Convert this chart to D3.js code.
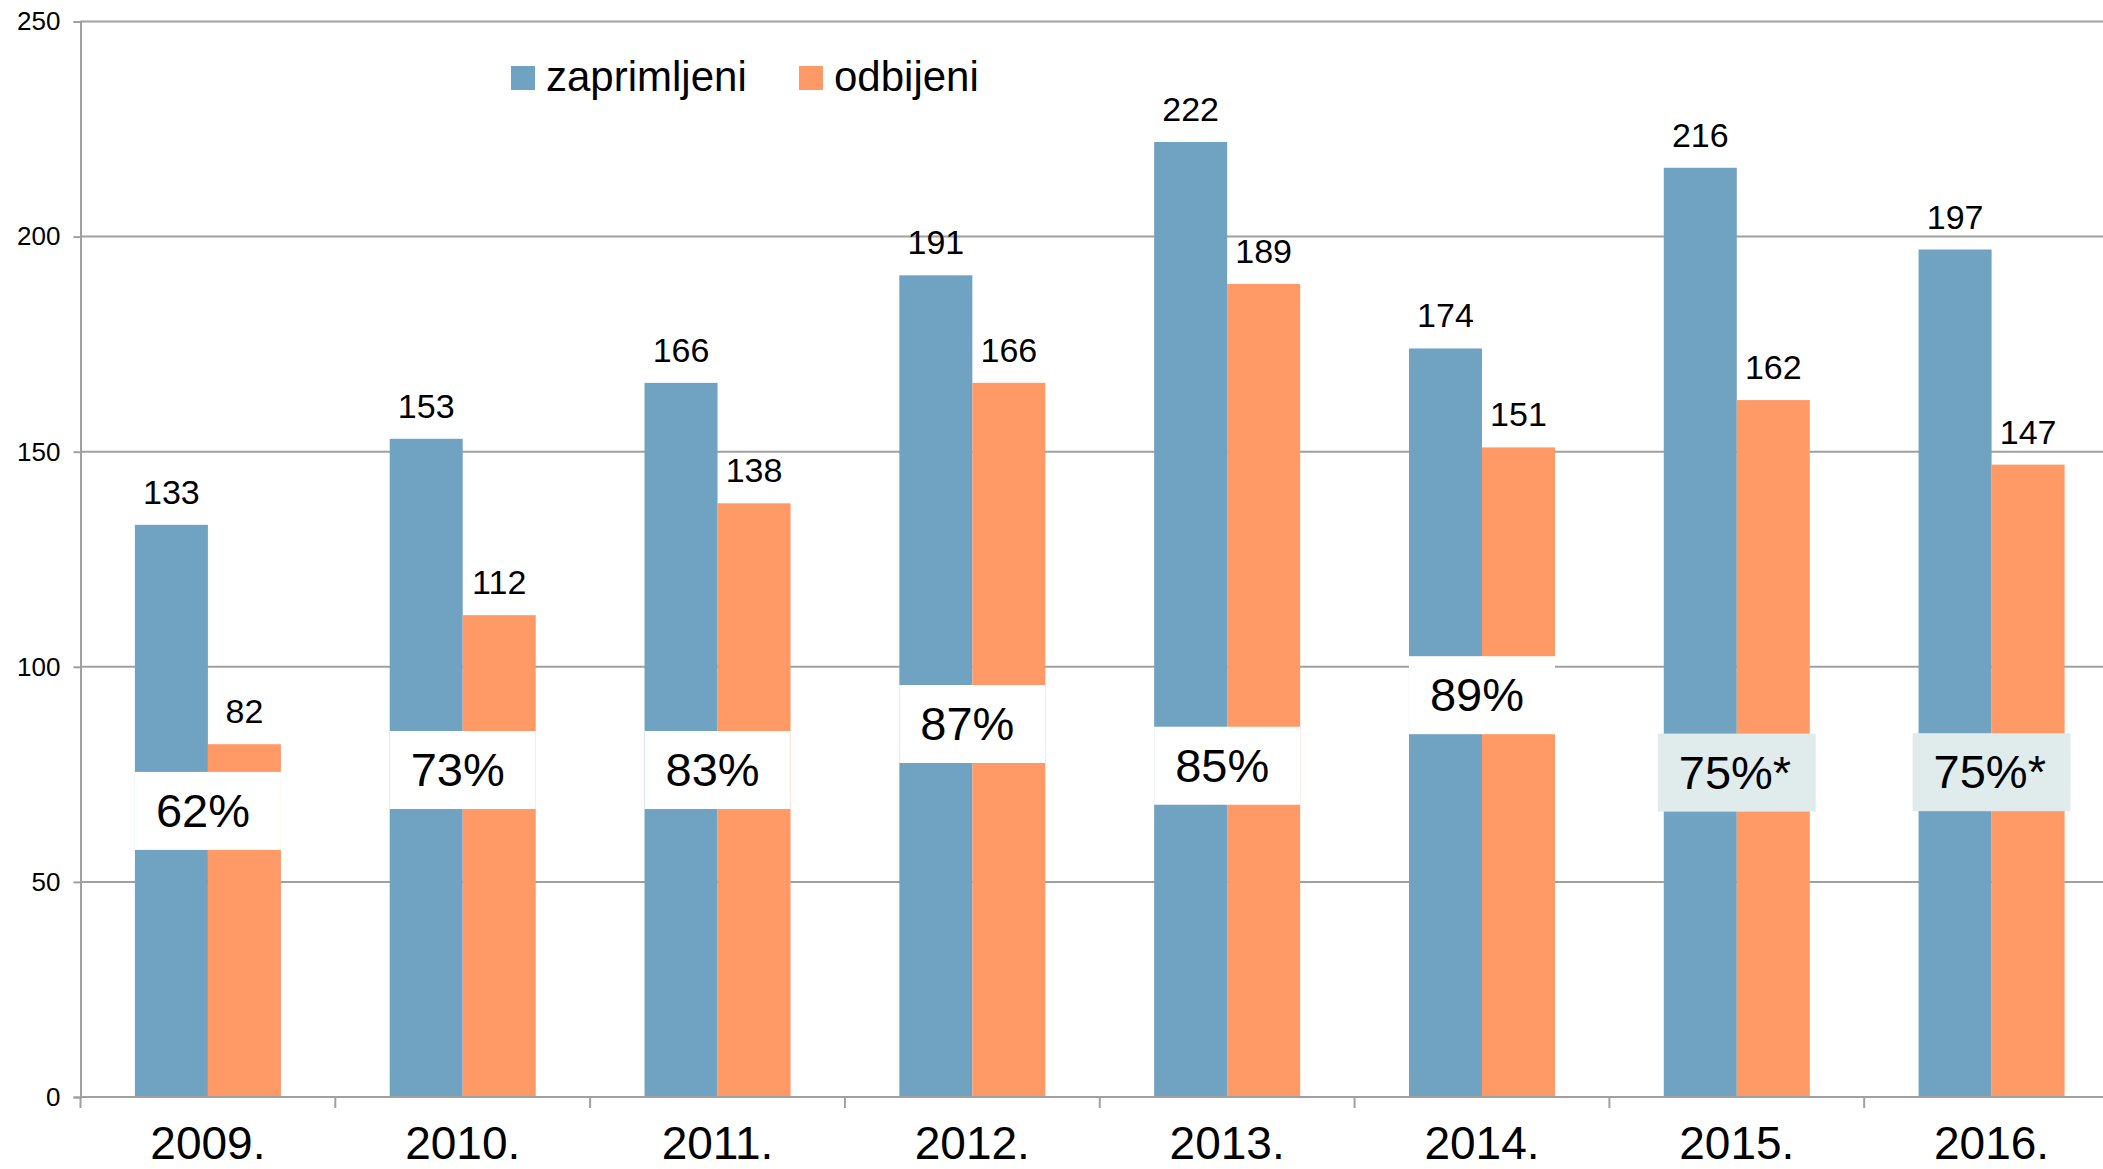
<!DOCTYPE html>
<html>
<head>
<meta charset="utf-8">
<script src="https://cdn.jsdelivr.net/npm/d3@7"></script>
<style>
    body { margin: 0; background: #fff; }
    svg { display: block; font-family: "Liberation Sans Narrow", "Liberation Sans", sans-serif; }
</style>
</head>
<body>
<div id="chart"></div>
<script>

// Data
let years = ["2009.", "2010.", "2011.", "2012.", "2013.", "2014.", "2015.", "2016."];
let zaprimljeni = [133, 153, 166, 191, 222, 174, 216, 197];
let odbijeni = [82, 112, 138, 166, 189, 151, 162, 147];
let pctLabels = ["62%", "73%", "83%", "87%", "85%", "89%", "75%*", "75%*"];
// level (in axis units) where each percentage note sits
let pctAt = [66.5, 76, 76, 86.7, 77, 93.4, 75.4, 75.5];
let yTicks = [0, 50, 100, 150, 200, 250];
let seriesNames = ["zaprimljeni", "odbijeni"];
let seriesColors = ["#70a2c2", "#ff9966"];

let W = 2103, H = 1169;
let margin = {top: 21.5, right: -16, bottom: 72, left: 80.5};
let width = W - margin.left - margin.right;
let height = H - margin.top - margin.bottom;

let svg = d3.select("#chart").append("svg")
    .attr("width", W)
    .attr("height", H)
    .append("g")
    .attr("transform", "translate(" + margin.left + "," + margin.top + ")");

let x = d3.scaleBand().domain(years).range([0, width]).padding(0);
let x1 = d3.scaleBand().domain(seriesNames).range([0, x.bandwidth()]).paddingInner(0).paddingOuter(0.745);
let y = d3.scaleLinear().domain([0, 250]).range([height, 0]);

let gridColor = "#a0a0a0";

// gridlines
svg.selectAll(".grid")
    .data(yTicks.filter(d => d > 0))
    .enter().append("line")
    .attr("x1", 0).attr("x2", width)
    .attr("y1", d => y(d)).attr("y2", d => y(d))
    .attr("stroke", gridColor).attr("stroke-width", 2);

// y axis
let yAxis = d3.axisLeft(y).tickValues(yTicks).tickSize(7).tickPadding(13);
let yAxisGroup = svg.append("g").call(yAxis);
yAxisGroup.select(".domain").attr("stroke", gridColor).attr("stroke-width", 2);
yAxisGroup.selectAll(".tick line").attr("stroke", gridColor).attr("stroke-width", 2);
yAxisGroup.selectAll("text").attr("font-size", 26).attr("fill", "#000")
    .attr("font-family", "Liberation Sans Narrow, sans-serif");

// bars
let rows = years.map((yr, i) => ({year: yr, vals: [zaprimljeni[i], odbijeni[i]]}));

let groups = svg.selectAll(".grp")
    .data(rows)
    .enter().append("g")
    .attr("transform", d => `translate(${x(d.year)},0)`);

groups.selectAll("rect")
    .data(d => d.vals.map((v, k) => ({key: seriesNames[k], v: v, c: seriesColors[k]})))
    .enter().append("rect")
    .attr("x", d => x1(d.key))
    .attr("y", d => y(d.v))
    .attr("width", x1.bandwidth())
    .attr("height", d => height - y(d.v))
    .attr("fill", d => d.c);

groups.selectAll(".val")
    .data(d => d.vals.map((v, k) => ({key: seriesNames[k], v: v})))
    .enter().append("text")
    .attr("x", d => x1(d.key) + x1.bandwidth() / 2)
    .attr("y", d => y(d.v) - 21)
    .attr("text-anchor", "middle")
    .attr("font-size", 34)
    .attr("fill", "#000")
    .text(d => d.v);

// percentage notes
groups.each(function(d, i) {
    let g = d3.select(this);
    let star = pctLabels[i].indexOf("*") >= 0;
    let bx = x1("zaprimljeni") + (star ? -6 : 0);
    let bw = x1.bandwidth() * 2 + (star ? 12 : 0);
    let cy = y(pctAt[i]);
    g.append("rect")
        .attr("x", bx)
        .attr("y", cy - 39)
        .attr("width", bw)
        .attr("height", 78)
        .attr("fill", star ? "#e0ecec" : "#ffffff");
    g.append("text")
        .attr("x", bx + 21)
        .attr("y", cy + 16)
        .attr("font-size", 47)
        .attr("fill", "#000")
        .text(pctLabels[i]);
});

// x axis
let xAxisGroup = svg.append("g").attr("transform", `translate(0,${height})`);
xAxisGroup.append("line")
    .attr("x1", 0).attr("x2", width)
    .attr("stroke", gridColor).attr("stroke-width", 2);
xAxisGroup.selectAll(".xtick")
    .data(years)
    .enter().append("line")
    .attr("x1", d => x(d)).attr("x2", d => x(d))
    .attr("y1", 0).attr("y2", 11)
    .attr("stroke", gridColor).attr("stroke-width", 2);
xAxisGroup.selectAll(".xlab")
    .data(years)
    .enter().append("text")
    .attr("x", d => x(d) + x.bandwidth() / 2)
    .attr("y", 62)
    .attr("text-anchor", "middle")
    .attr("font-size", 46)
    .attr("fill", "#000")
    .text(d => d);

// legend
let legend = svg.append("g").attr("transform", `translate(${511 - margin.left},${66 - margin.top})`);
let legX = [0, 288];
seriesNames.forEach((s, k) => {
    legend.append("rect")
        .attr("x", legX[k]).attr("y", 0)
        .attr("width", 24).attr("height", 24)
        .attr("fill", seriesColors[k]);
    legend.append("text")
        .attr("x", legX[k] + 35).attr("y", 25)
        .attr("font-size", 42)
        .attr("fill", "#000")
        .text(s);
});

</script>
</body>
</html>
